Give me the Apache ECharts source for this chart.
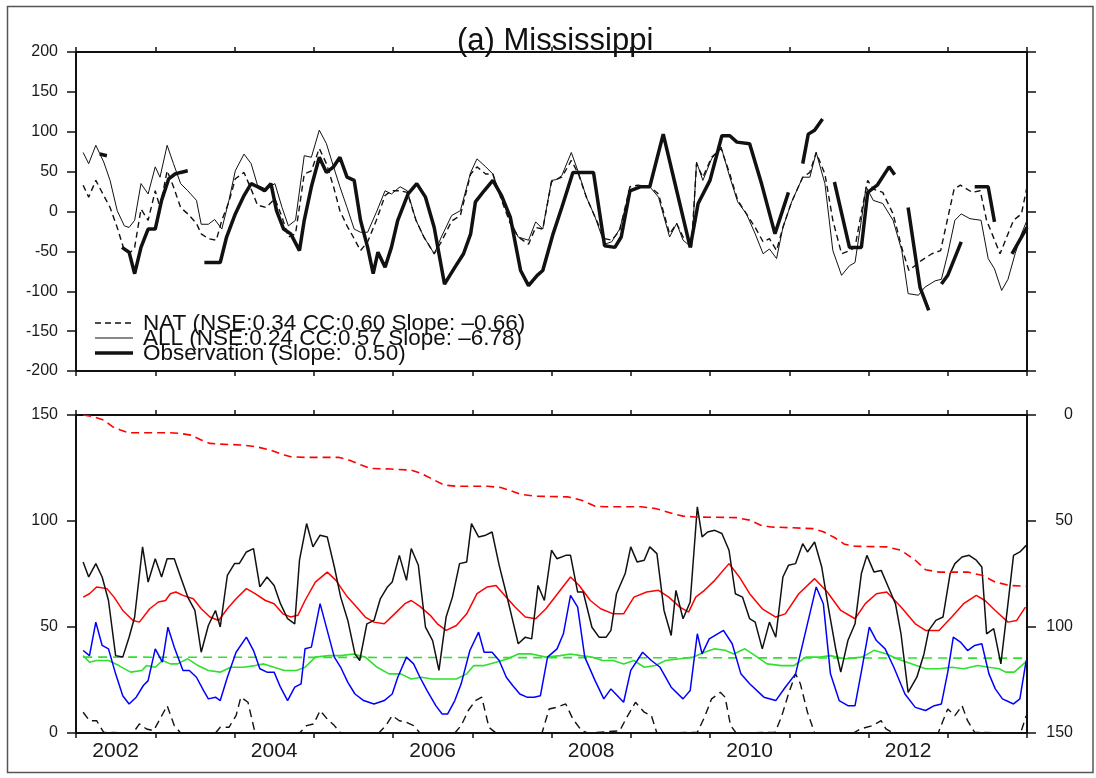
<!DOCTYPE html>
<html>
<head>
<meta charset="utf-8">
<script src="https://cdn.jsdelivr.net/npm/echarts@6/dist/echarts.min.js"></script>
<style>
  html, body { margin: 0; padding: 0; background: #fff; }
  #chart { width: 1096px; height: 778px; }
</style>
</head>
<body>
<div id="chart"></div>
<script>
// year bands on the time axis (label sits in the middle of each year)
const years = ['2002', '2003', '2004', '2005', '2006', '2007', '2008', '2009', '2010', '2011', '2012', '2013'];

// ---- top panel: anomalies, [decimal year, value] ----
const allRun = [
  [2002.09, 74], [2002.16, 60], [2002.25, 83], [2002.35, 62], [2002.43, 39], [2002.52, 1], [2002.61, -18], [2002.67, -20],
  [2002.74, -11], [2002.82, 35], [2002.91, 22], [2003.0, 56], [2003.06, 43], [2003.15, 83], [2003.23, 60], [2003.32, 35],
  [2003.41, 26], [2003.52, 14], [2003.58, -16], [2003.67, -16], [2003.75, -10], [2003.84, -22], [2003.93, 14], [2004.01, 51],
  [2004.12, 72], [2004.21, 60], [2004.29, 33], [2004.40, 28], [2004.51, 35], [2004.60, 5], [2004.68, -18], [2004.77, -11],
  [2004.88, 70], [2004.97, 68], [2005.07, 102], [2005.16, 85], [2005.25, 56], [2005.33, 31], [2005.42, 5], [2005.51, -22],
  [2005.59, -26], [2005.68, -26], [2005.79, -1], [2005.90, 26], [2005.98, 22], [2006.09, 31], [2006.18, 26], [2006.29, -11],
  [2006.39, -32], [2006.52, -53], [2006.61, -32], [2006.74, -5], [2006.85, 1], [2006.98, 49], [2007.06, 66], [2007.17, 56],
  [2007.26, 47], [2007.37, 16], [2007.48, -11], [2007.58, -32], [2007.71, -36], [2007.80, -13], [2007.89, -22], [2008.0, 39],
  [2008.06, 40], [2008.13, 45], [2008.25, 74], [2008.34, 49], [2008.44, 18], [2008.55, -7], [2008.67, -41], [2008.76, -38],
  [2008.86, -22], [2008.99, 26], [2009.09, 31], [2009.24, 31], [2009.35, 18], [2009.49, -32], [2009.58, -15], [2009.66, -36],
  [2009.77, -45], [2009.83, 62], [2009.91, 39], [2010.02, 66], [2010.14, 81], [2010.25, 43], [2010.35, 12], [2010.46, -3],
  [2010.57, -28], [2010.67, -53], [2010.75, -47], [2010.84, -59], [2010.92, -20], [2011.03, 12], [2011.17, 43], [2011.26, 43],
  [2011.34, 74], [2011.45, 35], [2011.55, -49], [2011.66, -80], [2011.76, -68], [2011.83, -64], [2011.91, -11], [2011.97, 31],
  [2012.06, 14], [2012.18, 10], [2012.31, -11], [2012.42, -49], [2012.50, -103], [2012.63, -105], [2012.71, -95], [2012.84, -87],
  [2012.92, -85], [2013.0, -53], [2013.09, -11], [2013.17, -3], [2013.28, -9], [2013.42, -11], [2013.51, -59], [2013.59, -72],
  [2013.68, -99], [2013.76, -85], [2013.85, -53], [2013.93, -28], [2014.0, -11]
];
const natRun = [
  [2002.09, 33], [2002.16, 18], [2002.25, 39], [2002.35, 20], [2002.43, 5], [2002.52, -20], [2002.61, -49], [2002.69, -51],
  [2002.74, -45], [2002.82, 3], [2002.91, -11], [2003.0, 26], [2003.06, 5], [2003.15, 51], [2003.23, 31], [2003.32, 5],
  [2003.41, -3], [2003.52, -15], [2003.58, -28], [2003.67, -34], [2003.77, -36], [2003.84, -11], [2003.93, 12], [2004.01, 41],
  [2004.12, 49], [2004.21, 28], [2004.29, 8], [2004.40, 5], [2004.51, 16], [2004.60, -7], [2004.68, -32], [2004.77, -28],
  [2004.88, 47], [2004.97, 51], [2005.07, 79], [2005.16, 60], [2005.25, 31], [2005.33, 1], [2005.42, -18], [2005.51, -34],
  [2005.59, -49], [2005.68, -38], [2005.79, -11], [2005.90, 20], [2005.98, 26], [2006.09, 26], [2006.18, 24], [2006.29, -11],
  [2006.39, -32], [2006.52, -53], [2006.61, -38], [2006.74, -12], [2006.85, -5], [2006.98, 47], [2007.06, 56], [2007.17, 47],
  [2007.26, 47], [2007.37, 14], [2007.48, -15], [2007.58, -32], [2007.71, -41], [2007.80, -20], [2007.89, -22], [2008.0, 37],
  [2008.06, 40], [2008.13, 43], [2008.25, 64], [2008.34, 47], [2008.44, 18], [2008.55, -7], [2008.67, -34], [2008.76, -36],
  [2008.86, -24], [2008.99, 31], [2009.09, 33], [2009.24, 31], [2009.35, 22], [2009.49, -28], [2009.58, -15], [2009.66, -32],
  [2009.77, -38], [2009.83, 60], [2009.91, 43], [2010.02, 68], [2010.14, 79], [2010.25, 47], [2010.35, 14], [2010.46, -3],
  [2010.57, -20], [2010.67, -38], [2010.75, -34], [2010.84, -49], [2010.92, -20], [2011.03, 12], [2011.17, 43], [2011.26, 49],
  [2011.34, 74], [2011.45, 47], [2011.55, -11], [2011.66, -53], [2011.76, -49], [2011.83, -45], [2011.91, -1], [2011.99, 39],
  [2012.06, 28], [2012.18, 24], [2012.31, -3], [2012.43, -49], [2012.51, -74], [2012.66, -62], [2012.80, -53], [2012.91, -49],
  [2013.08, 28], [2013.16, 33], [2013.31, 24], [2013.41, 26], [2013.49, -11], [2013.66, -53], [2013.83, -11], [2013.93, -3],
  [2014.0, 31]
];
// observation has gaps: null ends a segment
const obsRun = [
  [2002.30, 72], [2002.39, 70], null,
  [2002.58, -45], [2002.67, -51], [2002.74, -78], [2002.82, -45], [2002.91, -22], [2003.0, -22], [2003.08, 14], [2003.17, 41],
  [2003.25, 47], [2003.32, 49], [2003.41, 51], null,
  [2003.62, -64], [2003.71, -64], [2003.82, -64], [2003.90, -32], [2004.01, -3], [2004.12, 20], [2004.21, 35], [2004.29, 31],
  [2004.38, 26], [2004.46, 35], [2004.53, 1], [2004.62, -22], [2004.71, -28], [2004.82, -49], [2004.88, -11], [2004.97, 31],
  [2005.07, 68], [2005.16, 49], [2005.25, 56], [2005.33, 68], [2005.42, 43], [2005.51, 39], [2005.59, -11], [2005.68, -45],
  [2005.75, -78], [2005.81, -51], [2005.90, -70], [2005.98, -45], [2006.06, -11], [2006.19, 22], [2006.30, 35], [2006.41, 18],
  [2006.52, -20], [2006.65, -91], [2006.78, -70], [2006.89, -53], [2006.98, -28], [2007.04, 12], [2007.15, 26], [2007.26, 39],
  [2007.37, 20], [2007.48, -7], [2007.61, -74], [2007.71, -93], [2007.82, -80], [2007.89, -74], [2008.02, -28], [2008.13, 5],
  [2008.27, 49], [2008.40, 49], [2008.53, 49], [2008.67, -43], [2008.80, -45], [2008.88, -32], [2008.99, 26], [2009.12, 31],
  [2009.24, 31], [2009.41, 97], [2009.58, 26], [2009.75, -45], [2009.85, 10], [2010.0, 39], [2010.15, 95], [2010.25, 95],
  [2010.34, 87], [2010.50, 85], [2010.65, 35], [2010.82, -28], [2010.99, 24], null,
  [2011.17, 60], [2011.24, 97], [2011.32, 102], [2011.42, 116], null,
  [2011.57, 37], [2011.76, -45], [2011.91, -45], [2011.99, 24], [2012.11, 33], [2012.26, 56], [2012.33, 46], null,
  [2012.50, 5], [2012.65, -95], [2012.76, -124], null,
  [2012.92, -91], [2013.0, -80], [2013.17, -38], null,
  [2013.34, 31], [2013.51, 31], [2013.59, -13], null,
  [2013.81, -53], [2014.0, -20]
];

// ---- bottom panel, left axis ----
const blackSolid = [
  [2002.09, 80.7], [2002.16, 73.6], [2002.25, 79.9], [2002.33, 73.6], [2002.41, 62.5], [2002.50, 36.5], [2002.59, 35.8],
  [2002.67, 45.2], [2002.74, 54.7], [2002.84, 87.8], [2002.91, 71.2], [2003.0, 82.2], [2003.08, 73.6], [2003.15, 82.2],
  [2003.24, 82.2], [2003.32, 73.6], [2003.41, 64.1], [2003.50, 57.8], [2003.58, 38.1], [2003.67, 50.7], [2003.76, 57.8],
  [2003.82, 50], [2003.91, 74.4], [2004.0, 79.9], [2004.06, 79.9], [2004.15, 85.4], [2004.24, 87], [2004.32, 68.9],
  [2004.41, 73.6], [2004.50, 69.6], [2004.58, 61], [2004.67, 53.9], [2004.76, 51.5], [2004.82, 81.5], [2004.91, 98.8],
  [2004.99, 87.8], [2005.08, 93.3], [2005.17, 92.5], [2005.26, 78.3], [2005.34, 64.1], [2005.43, 53.1], [2005.52, 37.3],
  [2005.58, 34.2], [2005.67, 51.5], [2005.76, 53.1], [2005.84, 63.3], [2005.93, 68.9], [2005.99, 71.2], [2006.08, 83.8],
  [2006.17, 72], [2006.23, 87], [2006.32, 79.1], [2006.41, 49.9], [2006.50, 43.6], [2006.58, 29.5], [2006.67, 54.7],
  [2006.75, 64.1], [2006.84, 79.9], [2006.93, 80.7], [2006.99, 98.8], [2007.08, 92.5], [2007.17, 93.3], [2007.25, 94.8],
  [2007.34, 79.1], [2007.43, 65.7], [2007.51, 53.1], [2007.58, 42.1], [2007.67, 45.2], [2007.75, 44.4], [2007.83, 69.6],
  [2007.91, 62.5], [2008.0, 86.2], [2008.07, 82.2], [2008.18, 83.8], [2008.24, 83.8], [2008.33, 66.5], [2008.40, 66.5],
  [2008.51, 49.9], [2008.60, 45.2], [2008.69, 45.2], [2008.75, 48.4], [2008.82, 65.7], [2008.93, 75.2], [2009.0, 87.8],
  [2009.08, 80.7], [2009.17, 81.5], [2009.24, 87.8], [2009.33, 84.6], [2009.42, 57.8], [2009.51, 46], [2009.57, 67.3],
  [2009.66, 53.9], [2009.75, 61.8], [2009.84, 106.7], [2009.90, 92.5], [2009.97, 94.8], [2010.06, 95.6], [2010.15, 94.1],
  [2010.24, 86.2], [2010.32, 65.7], [2010.41, 64.1], [2010.50, 53.9], [2010.57, 52.3], [2010.66, 39.7], [2010.75, 52.3],
  [2010.83, 45.2], [2010.92, 73.6], [2010.99, 79.1], [2011.08, 79.9], [2011.17, 89.3], [2011.23, 85.4], [2011.32, 90.1],
  [2011.41, 78.3], [2011.50, 57.8], [2011.59, 38.9], [2011.65, 28.7], [2011.74, 43.6], [2011.83, 51.5], [2011.91, 75.2],
  [2011.98, 83.8], [2012.07, 75.9], [2012.16, 76.7], [2012.25, 68.9], [2012.34, 61], [2012.41, 46.8], [2012.50, 19.2],
  [2012.61, 26.3], [2012.70, 37.3], [2012.76, 48.4], [2012.85, 53.1], [2012.94, 54.7], [2013.03, 75.2], [2013.09, 79.9],
  [2013.18, 83], [2013.27, 83.8], [2013.36, 81.5], [2013.43, 78.3], [2013.49, 46.8], [2013.58, 49.2], [2013.67, 32.6],
  [2013.76, 61], [2013.83, 83.8], [2013.91, 85.4], [2013.99, 88.5]
];
const redSolid = [
  [2002.09, 64.1], [2002.17, 65.7], [2002.26, 68.9], [2002.39, 68.1], [2002.48, 64.1], [2002.59, 57.8], [2002.72, 53.1],
  [2002.80, 52.3], [2002.93, 58.6], [2003.04, 61.8], [2003.13, 62.5], [2003.19, 65.7], [2003.26, 66.5], [2003.35, 64.9],
  [2003.48, 63.3], [2003.58, 58.6], [2003.69, 54.7], [2003.80, 53.1], [2003.91, 58.6], [2004.02, 63.3], [2004.15, 68.1],
  [2004.26, 65.7], [2004.39, 62.5], [2004.50, 61], [2004.61, 56.2], [2004.71, 54.7], [2004.80, 55.5], [2004.89, 62.5],
  [2005.02, 71.2], [2005.17, 75.9], [2005.28, 72], [2005.41, 64.9], [2005.54, 59.4], [2005.65, 54.7], [2005.76, 52.3],
  [2005.89, 51.5], [2006.02, 56.2], [2006.15, 61], [2006.23, 62.5], [2006.34, 59.7], [2006.47, 55.5], [2006.56, 51.5],
  [2006.67, 48.4], [2006.80, 50.7], [2006.93, 56.2], [2007.06, 65.7], [2007.19, 68.9], [2007.30, 69.6], [2007.41, 64.9],
  [2007.54, 59.4], [2007.67, 54.7], [2007.80, 53.9], [2007.93, 58.6], [2008.11, 67.3], [2008.24, 73.6], [2008.35, 69.6],
  [2008.49, 62.5], [2008.62, 58.6], [2008.78, 56.2], [2008.91, 56.2], [2009.04, 64.1], [2009.20, 66.5], [2009.35, 67.3],
  [2009.48, 64.1], [2009.62, 59.4], [2009.73, 57], [2009.82, 64.1], [2009.93, 67.3], [2010.06, 72], [2010.24, 79.9],
  [2010.37, 73.6], [2010.50, 65.7], [2010.66, 58.6], [2010.83, 54.7], [2010.95, 56.2], [2011.12, 65.7], [2011.32, 72.8],
  [2011.48, 66.5], [2011.65, 57.8], [2011.83, 53.9], [2011.96, 61], [2012.10, 65.7], [2012.23, 66.5], [2012.41, 59.4],
  [2012.59, 51.5], [2012.72, 48.4], [2012.89, 48.4], [2013.05, 54.7], [2013.20, 61], [2013.36, 64.9], [2013.47, 62.5],
  [2013.60, 57.8], [2013.76, 52.3], [2013.87, 53.1], [2013.98, 59.4]
];
const blueSolid = [
  [2002.09, 38.9], [2002.17, 36.5], [2002.25, 52.3], [2002.33, 41.3], [2002.41, 39.7], [2002.50, 27.9], [2002.59, 17.6],
  [2002.67, 13.7], [2002.76, 16.9], [2002.85, 22.4], [2002.91, 24.7], [2003.0, 39.7], [2003.09, 33.4], [2003.16, 49.9],
  [2003.24, 40.5], [2003.35, 29.5], [2003.43, 29.5], [2003.52, 26.3], [2003.61, 20], [2003.67, 16.1], [2003.76, 16.9],
  [2003.82, 15.3], [2003.91, 26.3], [2004.02, 38.1], [2004.15, 45.2], [2004.24, 38.9], [2004.32, 30.3], [2004.41, 28.7],
  [2004.50, 28.7], [2004.58, 21.6], [2004.67, 15.3], [2004.76, 21.6], [2004.84, 23.2], [2004.89, 39.7], [2004.97, 40.5],
  [2005.08, 61], [2005.17, 48.4], [2005.26, 35.8], [2005.34, 31], [2005.43, 23.9], [2005.52, 18.4], [2005.63, 15.3],
  [2005.76, 13.7], [2005.89, 15.3], [2005.99, 18.4], [2006.06, 26.3], [2006.17, 35.8], [2006.26, 32.6], [2006.34, 26.3],
  [2006.43, 20], [2006.54, 12.9], [2006.62, 9], [2006.69, 9], [2006.78, 15.3], [2006.86, 23.2], [2006.97, 38.9],
  [2007.08, 47.6], [2007.15, 38.1], [2007.25, 38.1], [2007.34, 34.2], [2007.43, 26.3], [2007.51, 22.4], [2007.60, 18.4],
  [2007.69, 16.9], [2007.78, 16.9], [2007.86, 17.6], [2007.95, 35.8], [2008.07, 39.7], [2008.15, 46.8], [2008.24, 64.9],
  [2008.33, 59.4], [2008.42, 35.8], [2008.55, 24.7], [2008.66, 16.1], [2008.75, 20.8], [2008.91, 14.5], [2009.0, 29.5],
  [2009.15, 38.1], [2009.26, 34.2], [2009.37, 31], [2009.51, 21.6], [2009.66, 16.1], [2009.75, 20], [2009.84, 46.8],
  [2009.90, 37.3], [2009.99, 44.4], [2010.17, 48.4], [2010.28, 42.1], [2010.39, 27.9], [2010.50, 23.2], [2010.68, 16.9],
  [2010.83, 15.3], [2010.95, 21.6], [2011.08, 27.9], [2011.21, 48.4], [2011.34, 68.9], [2011.43, 61], [2011.52, 27.9],
  [2011.63, 15.3], [2011.74, 12.9], [2011.83, 12.9], [2011.92, 31], [2012.01, 49.9], [2012.10, 43.6], [2012.21, 39.7],
  [2012.32, 31], [2012.46, 18.4], [2012.59, 12.1], [2012.72, 10.6], [2012.83, 12.9], [2012.92, 13.7], [2013.0, 28.7],
  [2013.07, 45.2], [2013.16, 42.9], [2013.25, 38.9], [2013.34, 41.3], [2013.43, 42.1], [2013.52, 27.9], [2013.60, 20.8],
  [2013.69, 16.1], [2013.83, 13.7], [2013.91, 16.1], [2013.99, 34.2]
];
const greenSolid = [
  [2002.09, 36.5], [2002.17, 33.4], [2002.26, 34.2], [2002.41, 34.2], [2002.54, 31.8], [2002.69, 28.7], [2002.83, 29.5],
  [2002.89, 31.8], [2003.0, 31], [2003.09, 34.2], [2003.19, 32.6], [2003.28, 32.6], [2003.41, 35], [2003.54, 31.8],
  [2003.67, 29.5], [2003.82, 28.7], [2003.95, 31], [2004.11, 31], [2004.26, 31.8], [2004.37, 32.6], [2004.50, 31],
  [2004.63, 29.5], [2004.78, 29.5], [2004.89, 31], [2005.02, 35.8], [2005.19, 36.5], [2005.34, 36.5], [2005.50, 37.3],
  [2005.65, 35.8], [2005.80, 31], [2005.95, 27.9], [2006.10, 27.9], [2006.23, 25.5], [2006.36, 26.3], [2006.49, 25.5],
  [2006.80, 25.5], [2006.93, 27.9], [2007.02, 31.8], [2007.15, 31.8], [2007.30, 33.4], [2007.45, 35], [2007.58, 37.3],
  [2007.75, 37.3], [2007.93, 35.8], [2008.11, 36.5], [2008.24, 37.3], [2008.37, 36.5], [2008.51, 35.8], [2008.64, 34.2],
  [2008.78, 34.2], [2008.91, 32.6], [2009.04, 34.2], [2009.17, 31], [2009.31, 31.8], [2009.44, 34.2], [2009.62, 35],
  [2009.79, 35.8], [2009.93, 38.1], [2010.06, 39.7], [2010.19, 39], [2010.30, 37.3], [2010.44, 39.7], [2010.57, 36.5],
  [2010.72, 32.6], [2010.90, 31.8], [2011.06, 31.8], [2011.21, 35.8], [2011.39, 35.8], [2011.52, 36.5], [2011.70, 35],
  [2011.92, 35.8], [2012.07, 39], [2012.23, 37.3], [2012.36, 35], [2012.55, 32.6], [2012.72, 30.3], [2012.89, 30.3],
  [2013.05, 31], [2013.20, 30.3], [2013.38, 31.8], [2013.52, 31], [2013.65, 30.3], [2013.73, 28.7], [2013.84, 28.7],
  [2013.98, 33.4]
];
const greenDashed = [[2002.09, 35.8], [2014.0, 35.3]];
const blackDashed = [
  [2002.09, 9.8], [2002.17, 5.8], [2002.26, 5.8], [2002.35, 0.3], [2002.72, 0], [2002.80, 4.3], [2002.89, 1.9], [2002.98, 1.1],
  [2003.06, 6.6], [2003.15, 12.9], [2003.24, 3.5], [2003.32, 0], [2003.76, 0], [2003.82, 2.7], [2003.93, 2.7], [2004.02, 8.2],
  [2004.08, 16.9], [2004.17, 14.5], [2004.26, 0], [2004.82, 0], [2004.91, 3.5], [2005.0, 4.3], [2005.08, 10.6], [2005.17, 6.6],
  [2005.26, 3.5], [2005.34, 0], [2005.82, 0], [2005.91, 3.5], [2005.99, 8.2], [2006.08, 5.8], [2006.17, 5], [2006.26, 3.5],
  [2006.34, 0], [2006.78, 0], [2006.86, 3.5], [2006.95, 10.6], [2007.04, 15.3], [2007.12, 16.9], [2007.21, 2.7], [2007.30, 0],
  [2007.88, 0], [2007.97, 11.3], [2008.06, 12.1], [2008.18, 13.7], [2008.27, 6.6], [2008.38, 1.1], [2008.46, 0], [2008.86, 1],
  [2008.95, 7.4], [2009.06, 14.5], [2009.17, 9.8], [2009.26, 8.2], [2009.33, 0], [2009.84, 0.3], [2009.93, 7.4], [2010.02, 16.1],
  [2010.13, 19.2], [2010.19, 16.9], [2010.26, 3.5], [2010.33, 0], [2010.82, 0.3], [2010.90, 7.4], [2010.99, 18.4],
  [2011.08, 27.9], [2011.14, 23.2], [2011.23, 9.8], [2011.32, 0], [2011.81, 0], [2011.90, 1.9], [2012.05, 3.5], [2012.16, 5.8],
  [2012.22, 1.9], [2012.31, 0], [2012.88, 0], [2012.94, 5.8], [2013.0, 11.3], [2013.09, 8.2], [2013.18, 12.9], [2013.25, 5.8],
  [2013.34, 0.3], [2013.92, 0], [2013.99, 8.2]
];
// ---- bottom panel, right (inverted) axis ----
const redDashed = [
  [2002.09, 0], [2002.22, 0.8], [2002.35, 2.4], [2002.46, 5.5], [2002.56, 7.1], [2002.67, 8.4], [2003.19, 8.4], [2003.32, 8.7],
  [2003.45, 9.5], [2003.58, 11.8], [2003.69, 13.4], [2003.80, 13.7], [2004.11, 14.2], [2004.28, 15], [2004.45, 16.5],
  [2004.63, 18.9], [2004.71, 19.7], [2004.89, 20], [2005.32, 20], [2005.45, 21.3], [2005.60, 23.6], [2005.71, 25.2],
  [2005.97, 25.5], [2006.23, 26], [2006.36, 27.6], [2006.52, 30.7], [2006.65, 33.1], [2006.80, 33.6], [2007.19, 33.6],
  [2007.36, 34.2], [2007.49, 35.8], [2007.62, 37.5], [2007.80, 38.3], [2008.20, 38.6], [2008.38, 40.2], [2008.55, 43],
  [2008.69, 43.3], [2009.13, 43.3], [2009.31, 44.1], [2009.53, 46.5], [2009.66, 47.7], [2009.80, 48.1], [2010.33, 48.4],
  [2010.50, 49.6], [2010.64, 52], [2010.77, 52.8], [2011.30, 53.6], [2011.43, 55.1], [2011.57, 57.8], [2011.70, 61],
  [2011.83, 61.9], [2012.23, 62.2], [2012.41, 63.8], [2012.59, 68.5], [2012.72, 73], [2012.89, 74.1], [2013.25, 74.1],
  [2013.43, 75.6], [2013.60, 78.8], [2013.78, 80.4], [2013.99, 80.8]
];

const FONT = 'Liberation Sans, Arial, Helvetica, sans-serif';
const GREEN = '#2fe02f';

const chart = echarts.init(document.getElementById('chart'), null, { renderer: 'canvas' });

function bandAxis(gridIndex, position, showLabel) {
  return {
    type: 'category', gridIndex: gridIndex, position: position, data: years, boundaryGap: true,
    axisLine: { show: true, onZero: false, lineStyle: { color: '#111', width: 2 } },
    axisTick: { show: true, interval: 0, length: 5, lineStyle: { color: '#111', width: 1.5 } },
    axisLabel: { show: showLabel, interval: 1, margin: 8, color: '#1a1a1a', fontSize: 21, fontFamily: FONT },
    splitLine: { show: false }
  };
}
function valAxis(gridIndex, position, min, max, showLabel, extra) {
  return Object.assign({
    type: 'value', gridIndex: gridIndex, position: position, min: min, max: max, interval: 50,
    axisLine: { show: true, onZero: false, lineStyle: { color: '#111', width: 2 } },
    axisTick: { show: true, length: 9, lineStyle: { color: '#111', width: 1.5 } },
    axisLabel: { show: showLabel, margin: 18, color: '#1a1a1a', fontSize: 16, fontFamily: FONT },
    splitLine: { show: false }
  }, extra || {});
}
const timeAxis = (g) => ({ type: 'value', gridIndex: g, min: 2002, max: 2014, show: false });
const gapped = (arr) => arr.map(p => p ? p : ['-', '-']);

function line(name, data, xi, yi, color, width, type) {
  return {
    name: name, type: 'line', xAxisIndex: xi, yAxisIndex: yi, data: data,
    symbol: 'none', connectNulls: false, silent: true,
    lineStyle: { color: color, width: width, type: type || 'solid' }
  };
}

// legend drawn by hand: three stacked, slightly overlapping rows like the original
const legendRows = [
  { text: 'NAT (NSE:0.34 CC:0.60 Slope: \u20130.66)', y: 323, width: 1.4, dash: [6, 4] },
  { text: 'ALL (NSE:0.24 CC:0.57 Slope: \u20136.78)', y: 338, width: 1, dash: null },
  { text: 'Observation (Slope:  0.50)', y: 353, width: 3.5, dash: null }
];
const legendGraphics = [];
legendRows.forEach(r => {
  legendGraphics.push({
    type: 'line', shape: { x1: 95, y1: r.y, x2: 133, y2: r.y },
    style: { stroke: '#111', lineWidth: r.width, lineDash: r.dash }
  });
  legendGraphics.push({
    type: 'text', x: 143, y: r.y + 1,
    style: { text: r.text, fill: '#111', font: '22.5px ' + FONT, verticalAlign: 'middle' }
  });
});

chart.setOption({
  animation: false,
  backgroundColor: '#fff',
  title: {
    text: '(a) Mississippi', left: 452, top: 21,
    textStyle: { fontSize: 31, fontWeight: 'normal', color: '#111', fontFamily: FONT }
  },
  grid: [
    { left: 76, top: 52, width: 951, height: 319 },
    { left: 76, top: 415, width: 951, height: 318 }
  ],
  xAxis: [
    timeAxis(0), bandAxis(0, 'bottom', false), bandAxis(0, 'top', false),
    timeAxis(1), bandAxis(1, 'bottom', true), bandAxis(1, 'top', false)
  ],
  yAxis: [
    valAxis(0, 'left', -200, 200, true),
    valAxis(0, 'right', -200, 200, false),
    valAxis(1, 'left', 0, 150, true),
    valAxis(1, 'right', 0, 150, true, {
      inverse: true,
      axisLabel: { show: true, margin: 46, align: 'right', color: '#1a1a1a', fontSize: 16, fontFamily: FONT }
    })
  ],
  series: [
    line('NAT', natRun, 0, 0, '#111', 1.4, [6, 4]),
    line('ALL', allRun, 0, 0, '#111', 1),
    line('Observation', gapped(obsRun), 0, 0, '#111', 3.5),
    line('green mean', greenDashed, 3, 2, GREEN, 1.6, [9, 6]),
    line('green', greenSolid, 3, 2, GREEN, 1.6),
    line('black dashed', blackDashed, 3, 2, '#111', 1.4, [8, 5]),
    line('blue', blueSolid, 3, 2, '#0000ff', 1.5),
    line('red', redSolid, 3, 2, '#ff0000', 1.5),
    line('black', blackSolid, 3, 2, '#111', 1.5),
    line('red dashed', redDashed, 3, 3, '#ff0000', 1.6, [8, 5])
  ],
  graphic: [
    {
      type: 'rect', shape: { x: 7.5, y: 6.5, width: 1085.5, height: 766 },
      style: { fill: null, stroke: '#555', lineWidth: 1.5 }, silent: true
    }
  ].concat(legendGraphics)
});
</script>
</body>
</html>
